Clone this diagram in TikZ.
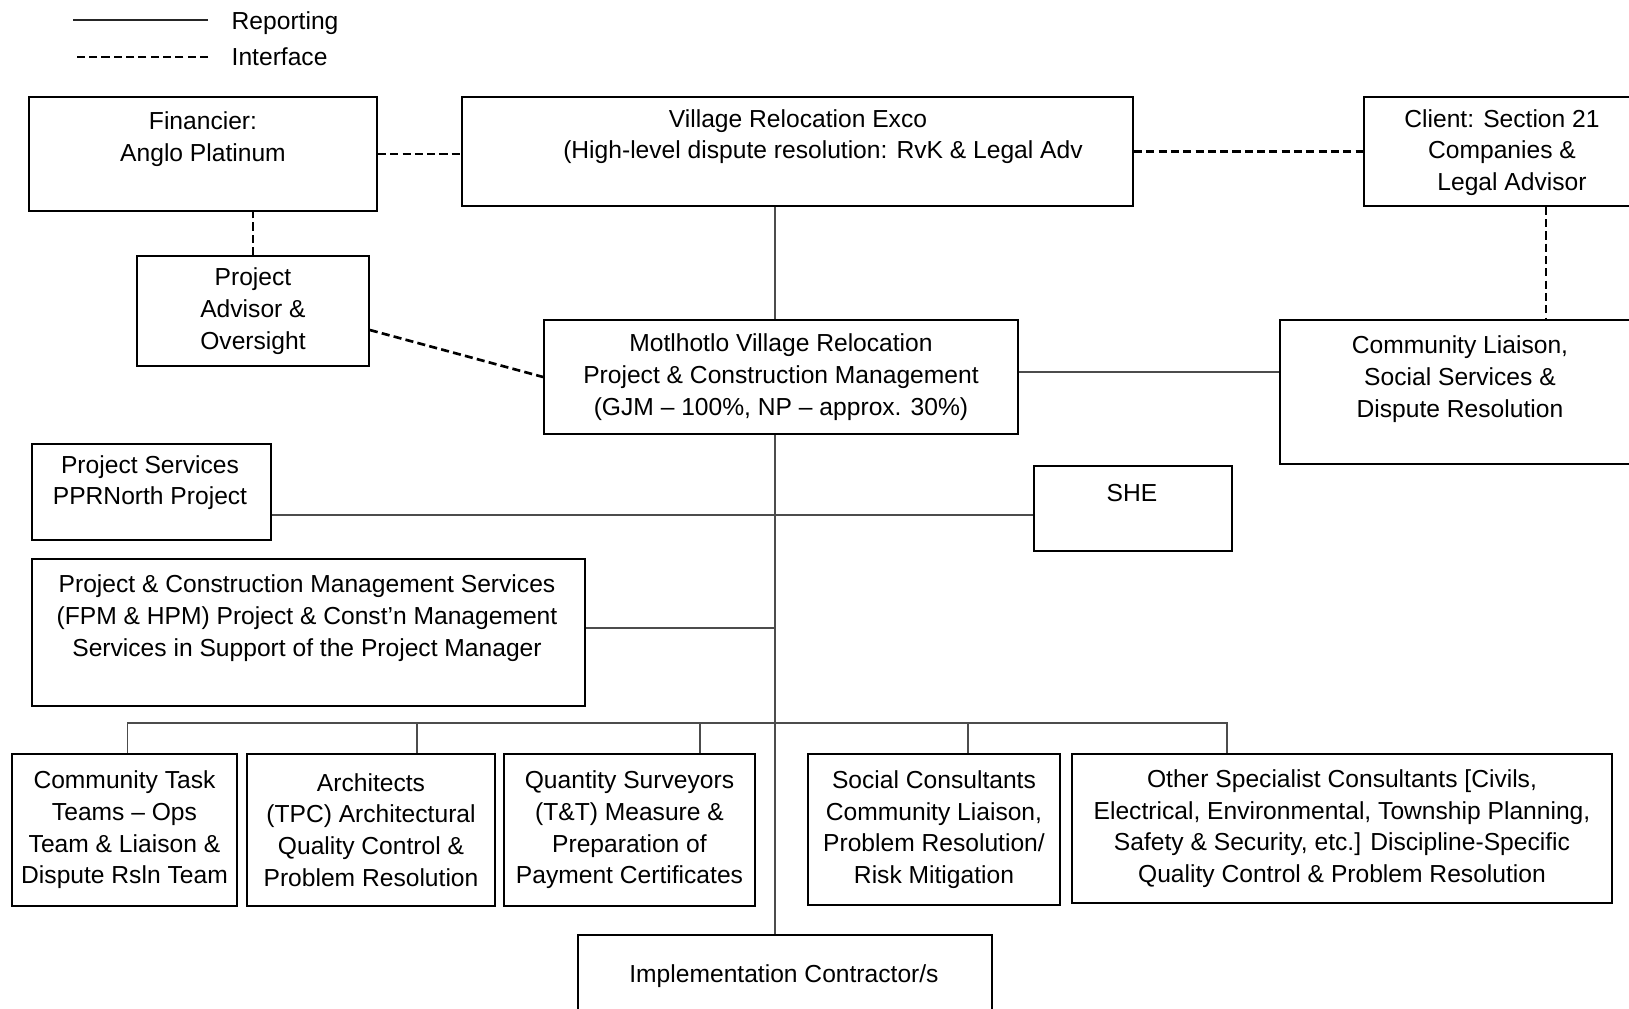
\documentclass[tikz,border=0pt]{standalone}
\usepackage{fontspec}
\setmainfont{Liberation Sans}
\tikzset{
  box/.style={draw, line width=0.45pt, inner sep=0pt, align=center},
  txt/.style={inner sep=0pt, align=center},
  rep/.style={draw=black!70, line width=0.35pt},
  iface/.style={draw=black, line width=0.75pt, dash pattern=on 2.3pt off 1.2pt},
}
\begin{document}
\begin{tikzpicture}[x=0.01cm, y=-0.01cm, font=\fontsize{7}{9}\selectfont]
    \useasboundingbox (0,0) rectangle (1629,1009);
    \clip (0,0) rectangle (1629,1009);
    % legend
    \node[anchor=base west, inner sep=0pt] (lrep) at (231,29) {Reporting};
    \node[anchor=base west, inner sep=0pt] (lint) at (231,65) {Interface};
    \draw[rep, draw=black!85] (lrep.base west) ++(-23,-9) -- ++(-135,0);
    \draw[iface] (lint.base west) ++(-23,-8) -- ++(-135,0);
    % top row
    \node[box, minimum width=3.48cm, minimum height=1.14cm] (fin) at (203,154) {};
    \node[txt] (fintxt) at (203,139) {Financier:\\Anglo Platinum};
    \node[box, minimum width=6.71cm, minimum height=1.09cm] (vre) at (797.5,151.5) {};
    \node[txt] (vretxt) at (798,136.5) {Village Relocation Exco\\\hspace*{0.5cm}(High-level dispute resolution: RvK \& Legal Adv};
    \node[box, minimum width=2.78cm, minimum height=1.09cm] (cli) at (1503,151.5) {};
    \node[txt] (clitxt) at (1502,152.5) {Client: Section 21\\Companies \&\\\hspace*{0.2cm}Legal Advisor};
    \draw[iface] (fin.east) -- (fin.east -| vre.west);
    \draw[iface] (vre.east) -- (vre.east -| cli.west);
    % second row
    \node[box, minimum width=2.32cm, minimum height=1.10cm] (pa) at (253,311) {Project\\Advisor \&\\Oversight};
    \node[box, minimum width=4.74cm, minimum height=1.14cm] (motl) at (781,377) {Motlhotlo Village Relocation\\Project \& Construction Management\\(GJM -- 100\%, NP -- approx. 30\%)};
    \node[box, minimum width=3.60cm, minimum height=1.44cm] (cl) at (1460,392) {};
    \node[txt] (cltxt) at (1460,379) {Community Liaison,\\Social Services \&\\Dispute Resolution};
    \draw[iface] (pa.north) -- (pa.north |- fin.south);
    \draw[iface] ([yshift=-0.19cm]pa.east) -- (motl.west);
    \draw[iface] ([xshift=0.43cm]cli.south) -- ([xshift=0.43cm]cli.south |- cl.north);
    \coordinate (sp) at (775,0);
    \draw[rep] (vre.south -| sp) -- (motl.north -| sp);
    \draw[rep] ([yshift=0.05cm]motl.east) -- ([yshift=0.05cm]motl.east -| cl.west);
    % services
    \node[box, minimum width=2.39cm, minimum height=0.96cm] (ps) at (151.5,492) {};
    \node[txt] (pstxt) at (150,482.5) {Project Services\\PPRNorth Project};
    \node[box, minimum width=1.98cm, minimum height=0.85cm] (she) at (1133,508.5) {};
    \node[txt] (shetxt) at (1132,493) {SHE};
    \node[box, minimum width=5.53cm, minimum height=1.47cm] (pcms) at (308.5,632.5) {};
    \node[txt] (pcmstxt) at (307,618) {Project \& Construction Management Services\\(FPM \& HPM) Project \& Const'n Management\\Services in Support of the Project Manager};
    \draw[rep] ([yshift=-0.23cm]ps.east) -- ([yshift=-0.23cm]ps.east -| she.west);
    \draw[rep] ([yshift=0.045cm]pcms.east) -- ([yshift=0.045cm]pcms.east -| sp);
    % consultants
    \node[box, minimum width=2.25cm, minimum height=1.52cm] (ctt) at (124.5,830) {Community Task\\Teams -- Ops\\Team \& Liaison \&\\Dispute Rsln Team};
    \node[box, minimum width=2.48cm, minimum height=1.52cm] (arch) at (371,830) {Architects\\(TPC) Architectural\\Quality Control \&\\Problem Resolution};
    \node[box, minimum width=2.51cm, minimum height=1.52cm] (qs) at (629.5,830) {Quantity Surveyors\\(T\&T) Measure \&\\Preparation of\\Payment Certificates};
    \node[box, minimum width=2.52cm, minimum height=1.51cm] (soc) at (934,829.5) {Social Consultants\\Community Liaison,\\Problem Resolution/\\Risk Mitigation};
    \node[box, minimum width=5.40cm, minimum height=1.49cm] (oth) at (1342,828.5) {Other Specialist Consultants [Civils,\\Electrical, Environmental, Township Planning,\\Safety \& Security, etc.] Discipline-Specific\\Quality Control \& Problem Resolution};
    \coordinate (bus) at (775,723);
    \draw[rep] ([xshift=0.03cm]ctt.north) |- (bus) -| ([xshift=-1.15cm]oth.north);
    \draw[rep] ([xshift=0.46cm]arch.north) -- ([xshift=0.46cm]arch.north |- bus);
    \draw[rep] ([xshift=0.705cm]qs.north) -- ([xshift=0.705cm]qs.north |- bus);
    \draw[rep] ([xshift=0.34cm]soc.north) -- ([xshift=0.34cm]soc.north |- bus);
    % contractors
    \node[box, minimum width=4.14cm, minimum height=1.05cm] (impl) at (785,987.5) {};
    \node[txt] (impltxt) at (784,976) {Implementation Contractor/s};
    \draw[rep] (motl.south -| sp) -- (impl.north -| sp);
\end{tikzpicture}
\end{document}
